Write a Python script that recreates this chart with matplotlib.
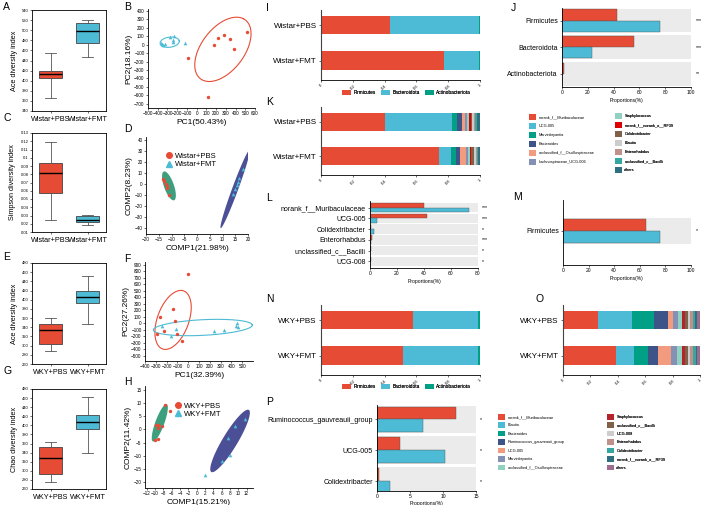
import numpy as np
import matplotlib.pyplot as plt
import matplotlib.transforms as mtransforms
from matplotlib.lines import Line2D

plt.rcParams['font.family'] = ['Liberation Sans', 'DejaVu Sans']

W, H = 708, 505
RED = '#E64B35'
CYAN = '#4DBBD5'
GREEN = '#3E9F7F'
NAVY = '#4B4F96'

# ---------------- alpha diversity: whislo, q1, median, q3, whishi
wistar_groups = ['Wistar+PBS', 'Wistar+FMT']
wky_groups = ['WKY+PBS', 'WKY+FMT']
ace_wistar = [[366, 406, 413, 419.5, 454], [447, 474, 499, 513.5, 520]]
simpson_wistar = [[0.025, 0.057, 0.0815, 0.094, 0.1195], [0.019, 0.022, 0.0246, 0.029, 0.0304]]
ace_wky = [[288, 303, 334, 347, 360], [348, 392, 406, 420, 452]]
chao_wky = [[275, 292, 328, 352, 364], [340, 392, 407, 423, 462]]

# ---------------- beta diversity points
pca_w_pbs_x = [217, 286, 344, 182, 386, 516, -89, 118]
pca_w_pbs_y = [84, 116, 69, -2, -53, 148, -160, -626]
pca_w_fmt_x = [-367, -353, -343, -326, -274, -230, -247, -243, -120]
pca_w_fmt_y = [18, 6, -2, 10, 96, 108, 57, 30, 18]

plsda_w_pbs_x = [-13.3, -12.8, -12.3, -11.6, -11.9, -10.8]
plsda_w_pbs_y = [4.5, 2.5, 0.5, -2.0, -3.5, -10.0]
plsda_w_fmt_x = [17.9, 16.6, 16.0, 15.5, 15.0, 14.2]
plsda_w_fmt_y = [14, 6, 2, -1, -4, -9]

pca_wky_pbs_x = [0, -139, -262, -123, -225, -107, -293, -61]
pca_wky_pbs_y = [757, 218, 95, 43, -115, -162, -166, -265]
pca_wky_fmt_x = [-246, -117, -163, 238, 330, 439, 448, 463]
pca_wky_fmt_y = [-38, -89, -192, -115, -100, -34, 3, -49]

plsda_wky_pbs_x = [-7.6, -6.4, -8.4, -9.8, -9.2, -9.4, -9.2, -10.0]
plsda_wky_pbs_y = [9.3, 6.8, 1.1, 1.5, 1.7, 0.7, -3.6, -4.2]
plsda_wky_fmt_x = [2.1, 6.0, 8.0, 7.5, 9.2, 11.5]
plsda_wky_fmt_y = [-17.2, -12.2, -9.6, -3.1, 1.1, 4.0]

# ellipses: centre x, centre y, axis-1 (ux, uy), axis-2 (vx, vy)
ell_b_pbs = [270, -55, 210, 364, -199, 115]
ell_b_fmt = [-277, 30, 98, 17, -10, 59]
ell_d_pbs = [-11, -1.5, -2.0, 13.0, 1.83, 1.51]
ell_d_fmt = [14.95, -4.4, 5.65, 35.3, 1.09, -0.95]
ell_f_pbs = [-140, 55, 80, 453, -148, 26]
ell_f_fmt = [135, -62, 458, 40, -10.5, 119.5]
ell_h_pbs = [-8.85, 2.5, 1.65, 7.1, 1.0, -0.59]
ell_h_fmt = [8.0, -4.4, 4.5, 11.8, 1.52, -1.48]

# ---------------- community composition
phyla = ['Firmicutes', 'Bacteroidota', 'Actinobacteriota']
phylum_colors = [RED, CYAN, '#00A087']
phylum_wistar_pbs = [0.435, 0.56, 0.005]
phylum_wistar_fmt = [0.772, 0.223, 0.005]
phylum_wky_pbs = [0.58, 0.41, 0.01]
phylum_wky_fmt = [0.515, 0.475, 0.01]

genus_w = ['norank_f__Muribaculaceae', 'UCG-005', 'Marvinbryantia', 'Bacteroides',
           'unclassified_f__Oscillospiraceae', 'Lachnospiraceae_UCG-006', 'Staphylococcus',
           'norank_f__norank_o__RF39', 'Colidextribacter', 'Blautia', 'Enterorhabdus',
           'unclassified_c__Bacilli', 'others']
genus_w_colors = [RED, CYAN, '#00A087', '#3C5488', '#F39B7F', '#8491B4', '#91D1C2',
                  '#DC0000', '#7E6148', '#CCCCCC', '#C0908A', '#35A7A0', '#2E6F80']
genus_w_pbs = [0.40, 0.425, 0.03, 0.03, 0.02, 0.015, 0.012, 0.01, 0.008, 0.01, 0.01, 0.008, 0.022]
genus_w_fmt = [0.745, 0.073, 0.032, 0.027, 0.033, 0.015, 0.01, 0.01, 0.02, 0.01, 0.008, 0.007, 0.01]

genus_k = ['norank_f__Muribaculaceae', 'Blautia', 'Bacteroides', 'Ruminococcus_gauvreauii_group',
           'UCG-005', 'Marvinbryantia', 'unclassified_f__Oscillospiraceae', 'Staphylococcus',
           'unclassified_c__Bacilli', 'UCG-008', 'Enterorhabdus', 'Colidextribacter',
           'norank_f__norank_o__RF39', 'others']
genus_k_colors = [RED, CYAN, '#00A087', '#3C5488', '#F39B7F', '#8491B4', '#91D1C2',
                  '#B5242A', '#7E6148', '#CCCCCC', '#C0908A', '#35A7A0', '#2E6F80', '#9E6C8F']
genus_k_pbs = [0.255, 0.25, 0.16, 0.10, 0.035, 0.04, 0.03, 0.02, 0.02, 0.02, 0.02, 0.015, 0.015, 0.02]
genus_k_fmt = [0.39, 0.13, 0.10, 0.07, 0.10, 0.04, 0.04, 0.02, 0.02, 0.02, 0.02, 0.02, 0.01, 0.02]

# ---------------- group differences (%)
j_cats = ['Firmicutes', 'Bacteroidota', 'Actinobacteriota']
j_pbs = [43, 56, 1.5]
j_fmt = [76, 23, 0.3]
j_sig = ['***', '***', '**']

l_cats = ['norank_f__Muribaculaceae', 'UCG-005', 'Colidextribacter', 'Enterorhabdus',
          'unclassified_c__Bacilli', 'UCG-008']
l_pbs = [40, 42, 0.5, 1.5, 0.8, 0.5]
l_fmt = [73, 5, 3, 0.5, 0.3, 0.2]
l_sig = ['***', '***', '*', '***', '*', '*']

m_cats = ['Firmicutes']
m_pbs = [65]
m_fmt = [76]
m_sig = ['*']

p_cats = ['Ruminococcus_gauvreauii_group', 'UCG-005', 'Colidextribacter']
p_pbs = [12, 3.5, 0.3]
p_fmt = [7, 10.3, 2]
p_sig = ['*', '*', '*']

fig = plt.figure(figsize=(W / 100, H / 100), dpi=100)


def add_ax(l, t, r, b):
    return fig.add_axes([l / W, 1 - b / H, (r - l) / W, (b - t) / H])


def letter(x, y, s):
    fig.text(x / W, 1 - y / H, s, fontsize=7.5, ha='left', va='top')


def box_panel(ax, stats_list, groups, ylim, yticks, ylabel, ticklabels=None):
    stats = [dict(whislo=s[0], q1=s[1], med=s[2], q3=s[3], whishi=s[4], fliers=[]) for s in stats_list]
    bp = ax.bxp(stats, positions=[1, 2], widths=0.62, patch_artist=True, showfliers=False,
                boxprops=dict(edgecolor='#444444', linewidth=0.6),
                medianprops=dict(color='black', linewidth=1.0),
                whiskerprops=dict(color='#555555', linewidth=0.6),
                capprops=dict(color='#555555', linewidth=0.6), capwidths=0.31)
    for patch, c in zip(bp['boxes'], [RED, CYAN]):
        patch.set_facecolor(c)
    ax.set_xlim(0.5, 2.5)
    ax.set_ylim(*ylim)
    ax.set_yticks(yticks)
    if ticklabels is not None:
        ax.set_yticklabels(ticklabels)
    ax.set_xticks([1, 2], groups)
    ax.tick_params(axis='y', labelsize=3, length=1.5, width=0.4, pad=1)
    ax.tick_params(axis='x', labelsize=5.2, length=1.5, width=0.4, pad=2)
    ax.set_ylabel(ylabel, fontsize=5.2, labelpad=3)
    for sp in ax.spines.values():
        sp.set_linewidth(0.6)


def ellipse(ax, e, fill=None, edge=None, alpha=1.0):
    t = np.linspace(0, 2 * np.pi, 300)
    x = e[0] + e[2] * np.cos(t) + e[4] * np.sin(t)
    y = e[1] + e[3] * np.cos(t) + e[5] * np.sin(t)
    if fill is not None:
        ax.fill(x, y, color=fill, alpha=alpha, lw=0, zorder=1)
    if edge is not None:
        ax.plot(x, y, color=edge, lw=0.8, zorder=1)


def scatter_panel(ax, xlim, ylim, xticks, yticks, xlabel, ylabel):
    ax.set_xlim(*xlim)
    ax.set_ylim(*ylim)
    ax.set_xticks(xticks)
    ax.set_yticks(yticks)
    ax.tick_params(labelsize=3.3, length=1.5, width=0.4, pad=1)
    ax.set_xlabel(xlabel, fontsize=6, labelpad=1.5)
    ax.set_ylabel(ylabel, fontsize=6, labelpad=1.5)
    for s in ['top', 'right']:
        ax.spines[s].set_visible(False)
    for s in ['left', 'bottom']:
        ax.spines[s].set_linewidth(0.6)


def points(ax, px, py, fx, fy):
    ax.scatter(px, py, s=6, color=RED, marker='o', lw=0, zorder=3)
    ax.scatter(fx, fy, s=7, color=CYAN, marker='^', lw=0, zorder=3)


def group_legend(ax, groups, xa, ya):
    h = [Line2D([], [], ls='none', marker='o', color=RED, markersize=4),
         Line2D([], [], ls='none', marker='^', color=CYAN, markersize=4)]
    ax.legend(h, groups, loc='upper left', bbox_to_anchor=(xa, ya), frameon=False, fontsize=5.5,
              handlelength=0.8, handletextpad=0.3, labelspacing=0.15, borderpad=0, borderaxespad=0)


def stacked_panel(ax, groups, rows, colors, labels):
    y = np.arange(len(groups))[::-1]
    vals = np.array(rows)
    left = np.zeros(len(groups))
    for j in range(vals.shape[1]):
        ax.barh(y, vals[:, j], left=left, height=0.52, color=colors[j], label=labels[j], lw=0)
        left += vals[:, j]
    ax.set_yticks(y, groups)
    ax.set_xlim(0, 1)
    ax.set_ylim(-0.55, 1.43)
    ticks = [0, 0.2, 0.4, 0.6, 0.8, 1]
    ax.set_xticks(ticks, ['0', '0.2', '0.4', '0.6', '0.8', '1'], rotation=45)
    ax.tick_params(axis='x', labelsize=3, length=1.5, width=0.4, pad=1)
    ax.tick_params(axis='y', labelsize=5.8, length=1.5, width=0.4, pad=1.5)
    for s in ['top', 'right']:
        ax.spines[s].set_visible(False)
    ax.spines['left'].set_linewidth(0.8)
    ax.spines['left'].set_color('#444444')
    ax.spines['bottom'].set_linewidth(0.6)


def compare_panel(ax, cats, pbs, fmt, sig, xmax, xticks, ylim, catsize, labelpad=2):
    y = np.arange(len(cats))[::-1]
    ax.barh(y, [xmax] * len(cats), height=0.9, color='#EBEBEB', lw=0, zorder=0)
    ax.barh(y + 0.21, pbs, height=0.42, color=RED, edgecolor='#555555', lw=0.3, zorder=2)
    ax.barh(y - 0.21, fmt, height=0.42, color=CYAN, edgecolor='#555555', lw=0.3, zorder=2)
    tr = mtransforms.blended_transform_factory(ax.transAxes, ax.transData)
    for yy, s in zip(y, sig):
        ax.text(1.035, yy, s, transform=tr, fontsize=3.8, va='center', ha='left')
    ax.set_xlim(0, xmax)
    ax.set_ylim(*ylim)
    ax.set_yticks(y, cats)
    ax.set_xticks(xticks)
    ax.tick_params(axis='x', labelsize=3.6, length=1.5, width=0.4, pad=1)
    ax.tick_params(axis='y', labelsize=catsize, length=1.5, width=0.4, pad=1.5)
    ax.set_xlabel('Proportions(%)', fontsize=3.6, labelpad=labelpad)
    for s in ['top', 'right']:
        ax.spines[s].set_visible(False)
    ax.spines['left'].set_linewidth(0.6)
    ax.spines['bottom'].set_linewidth(0.6)


def fig_legend(ax, handles, labels, x, y, fontsize=2.8, ncol=1, hl=1.8, hh=1.8, ls=0.9, cs=1.0):
    leg = ax.legend(handles, labels, loc='upper left', bbox_to_anchor=(x / W, 1 - y / H),
                    bbox_transform=fig.transFigure, frameon=False, fontsize=fontsize, ncol=ncol,
                    handlelength=hl, handleheight=hh, labelspacing=ls, handletextpad=0.6,
                    columnspacing=cs, borderpad=0, borderaxespad=0)
    ax.add_artist(leg)
    return leg


# ---------------- A, C, E, G
axA = add_ax(32, 10, 106, 111)
box_panel(axA, ace_wistar, wistar_groups, (340, 540), np.arange(340, 541, 20), 'Ace diversity index')
axC = add_ax(32, 133, 106, 232)
box_panel(axC, simpson_wistar, wistar_groups, (0.01, 0.13), np.arange(0.01, 0.131, 0.01),
          'Simpson diversity index',
          ['0.01', '0.02', '0.03', '0.04', '0.05', '0.06', '0.07', '0.08', '0.09', '0.1', '0.11', '0.12', '0.13'])
axE = add_ax(32, 263, 106, 364)
box_panel(axE, ace_wky, wky_groups, (260, 480), np.arange(260, 481, 20), 'Ace diversity index')
axG = add_ax(32, 389, 106, 489)
box_panel(axG, chao_wky, wky_groups, (260, 480), np.arange(260, 481, 20), 'Chao diversity index')

# ---------------- B
axB = add_ax(148, 9, 255, 108)
ellipse(axB, ell_b_pbs, edge=RED)
ellipse(axB, ell_b_fmt, edge=CYAN)
points(axB, pca_w_pbs_x, pca_w_pbs_y, pca_w_fmt_x, pca_w_fmt_y)
scatter_panel(axB, (-500, 600), (-751, 424), np.arange(-500, 601, 100), np.arange(-700, 401, 100),
              'PC1(50.43%)', 'PC2(18.16%)')

# ---------------- D
axD = add_ax(146, 137, 248, 234)
ellipse(axD, ell_d_pbs, fill=GREEN)
ellipse(axD, ell_d_fmt, fill=NAVY)
points(axD, plsda_w_pbs_x, plsda_w_pbs_y, plsda_w_fmt_x, plsda_w_fmt_y)
scatter_panel(axD, (-20, 20), (-45, 42.7), np.arange(-20, 21, 5), np.arange(-40, 41, 10),
              'COMP1(21.98%)', 'COMP2(8.23%)')
group_legend(axD, wistar_groups, 0.2, 0.84)

# ---------------- F
axF = add_ax(145, 262, 253, 361)
ellipse(axF, ell_f_pbs, edge=RED)
ellipse(axF, ell_f_fmt, edge=CYAN)
points(axF, pca_wky_pbs_x, pca_wky_pbs_y, pca_wky_fmt_x, pca_wky_fmt_y)
scatter_panel(axF, (-400, 600), (-577, 946), np.arange(-400, 501, 100), np.arange(-500, 901, 100),
              'PC1(32.39%)', 'PC2(27.26%)')

# ---------------- H
axH = add_ax(145, 386, 253, 488)
ellipse(axH, ell_h_pbs, fill=GREEN)
ellipse(axH, ell_h_fmt, fill=NAVY)
points(axH, plsda_wky_pbs_x, plsda_wky_pbs_y, plsda_wky_fmt_x, plsda_wky_fmt_y)
scatter_panel(axH, (-12.4, 13.5), (-22.3, 16.5), np.arange(-12, 14, 2), np.arange(-20, 16, 5),
              'COMP1(15.21%)', 'COMP2(11.42%)')
group_legend(axH, wky_groups, 0.28, 0.84)

# ---------------- I
axI = add_ax(321, 10, 480, 80)
stacked_panel(axI, wistar_groups, [phylum_wistar_pbs, phylum_wistar_fmt], phylum_colors, phyla)
hI, lI = axI.get_legend_handles_labels()
fig_legend(axI, hI, lI, 342, 90, fontsize=3.4, ncol=3, hl=1.9, hh=1.3, cs=1.0)

# ---------------- K
axK = add_ax(321, 107, 480, 175)
stacked_panel(axK, wistar_groups, [genus_w_pbs, genus_w_fmt], genus_w_colors, genus_w)
hK, lK = axK.get_legend_handles_labels()
fig_legend(axK, hK[:6], lK[:6], 529, 114)
fig_legend(axK, hK[6:], lK[6:], 615, 113)

# ---------------- N
axN = add_ax(321, 305, 480, 375)
stacked_panel(axN, wky_groups, [phylum_wky_pbs, phylum_wky_fmt], phylum_colors, phyla)
hN, lN = axN.get_legend_handles_labels()
fig_legend(axN, hN, lN, 342, 384, fontsize=3.4, ncol=3, hl=1.9, hh=1.3, cs=1.0)

# ---------------- O
axO = add_ax(563, 305, 700, 375)
stacked_panel(axO, wky_groups, [genus_k_pbs, genus_k_fmt], genus_k_colors, genus_k)
hO, lO = axO.get_legend_handles_labels()
fig_legend(axO, hO[:7], lO[:7], 498, 414, ls=0.75)
fig_legend(axO, hO[7:], lO[7:], 607, 414, ls=0.75)

# ---------------- J, L, M, P
axJ = add_ax(562, 8, 691, 87)
compare_panel(axJ, j_cats, j_pbs, j_fmt, j_sig, 100, np.arange(0, 101, 20), (-0.5, 2.47), 5)
axL = add_ax(370, 201, 478, 268)
compare_panel(axL, l_cats, l_pbs, l_fmt, l_sig, 80, np.arange(0, 81, 20), (-0.62, 5.62), 5)
axM = add_ax(563, 200, 691, 265)
compare_panel(axM, m_cats, m_pbs, m_fmt, m_sig, 100, np.arange(0, 101, 20), (-1.18, 1.07), 5)
axP = add_ax(377, 405, 476, 491)
compare_panel(axP, p_cats, p_pbs, p_fmt, p_sig, 15, np.arange(0, 16, 5), (-0.32, 2.47), 5.1, labelpad=1)

# ---------------- panel letters
for s, x, y in [('A', 3, 2), ('B', 124, 2), ('C', 3, 113), ('D', 124, 124), ('E', 3, 252),
                ('F', 124, 254), ('G', 3, 366), ('H', 124, 377), ('I', 266, 3), ('J', 511, 3),
                ('K', 266, 97), ('L', 266, 193), ('M', 513, 192), ('N', 266, 294),
                ('O', 536, 294), ('P', 266, 397)]:
    letter(x, y, s)

fig.savefig('out.png', dpi=100)
